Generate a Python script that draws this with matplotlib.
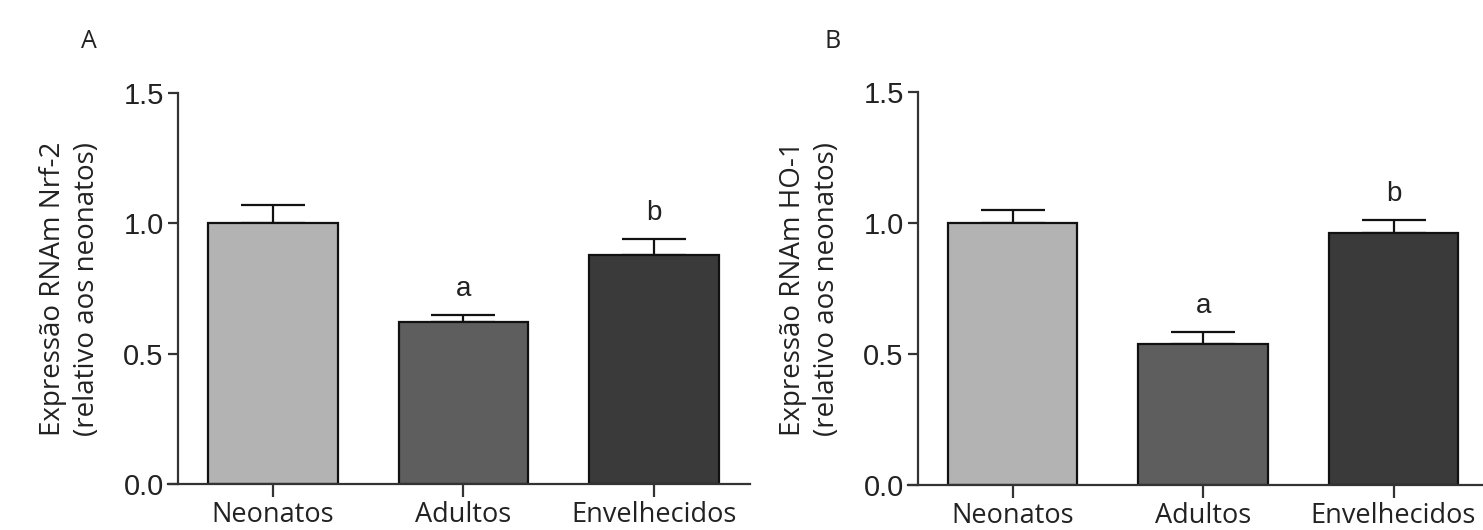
import matplotlib
matplotlib.use("Agg")
import matplotlib.pyplot as plt

categories = ["Neonatos", "Adultos", "Envelhecidos"]
nrf2_means = [1.00, 0.62, 0.88]
nrf2_err = [0.07, 0.03, 0.06]
nrf2_letters = ["", "a", "b"]
ho1_means = [1.00, 0.54, 0.96]
ho1_err = [0.05, 0.045, 0.05]
ho1_letters = ["", "a", "b"]
yticks = [0.0, 0.5, 1.0, 1.5]
bar_colors = ["#b3b3b3", "#5e5e5e", "#3a3a3a"]

fig = plt.figure(figsize=(14.83, 5.30), dpi=100)

TXT = "#222222"
LBLFONT = ["Open Sans", "DejaVu Sans"]
NUMFONT = ["Liberation Sans", "DejaVu Sans"]


def panel(rect, means, errs, letters, ylabel, tag, xlim_right, tag_x, label_x):
    ax = fig.add_axes(rect)
    x = list(range(len(categories)))
    ax.bar(x, means, width=0.68, color=bar_colors, edgecolor="#111111",
           linewidth=1.6, zorder=2)
    ax.errorbar(x, means, yerr=[[0] * len(errs), errs], fmt="none",
                ecolor="#111111", elinewidth=1.6, capsize=23, capthick=1.6,
                zorder=1)
    for xi, m, e, l in zip(x, means, errs, letters):
        if l:
            ax.text(xi, m + e + 0.05, l, ha="center", va="bottom",
                    fontsize=20, family=NUMFONT, color=TXT)
    ax.set_xlim(-0.55, xlim_right)
    ax.set_ylim(0, 1.5)
    ax.spines["left"].set_position(("data", -0.5))
    for s in ["top", "right"]:
        ax.spines[s].set_visible(False)
    for s in ["left", "bottom"]:
        ax.spines[s].set_linewidth(1.6)
        ax.spines[s].set_color("#333333")
    ax.set_yticks(yticks)
    ax.set_yticklabels([f"{v:.1f}" for v in yticks], fontsize=21,
                       family=NUMFONT, color=TXT)
    ax.set_xticks(x)
    ax.set_xticklabels(categories, fontsize=19.5, family=LBLFONT, color=TXT)
    ax.tick_params(axis="y", length=7, width=1.6, color="#333333", pad=3)
    ax.tick_params(axis="x", length=9, width=1.6, color="#333333", pad=3)
    ax.set_ylabel(ylabel, fontsize=20, family=LBLFONT, color=TXT,
                  linespacing=1.28, va="center")
    ax.yaxis.set_label_coords(label_x, 0.5)
    fig.text(tag_x, 0.922, tag, fontsize=18, family=LBLFONT, color=TXT,
             ha="center", va="center")
    ax.patch.set_alpha(0)
    return ax


panel([168 / 1483, 1 - 484 / 530, (750 - 168) / 1483, (484 - 93) / 530],
      nrf2_means, nrf2_err, nrf2_letters,
      "Expressão RNAm Nrf-2\n(relativo aos neonatos)", "A", 2.504, 89 / 1483,
      (70 - 168) / 582)
panel([908 / 1483, 1 - 485 / 530, (1483 - 908) / 1483, (485 - 92) / 530],
      ho1_means, ho1_err, ho1_letters,
      "Expressão RNAm HO-1\n(relativo aos neonatos)", "B", 2.47, 833 / 1483,
      (810 - 908) / 575)

fig.savefig("out.png", dpi=100)
